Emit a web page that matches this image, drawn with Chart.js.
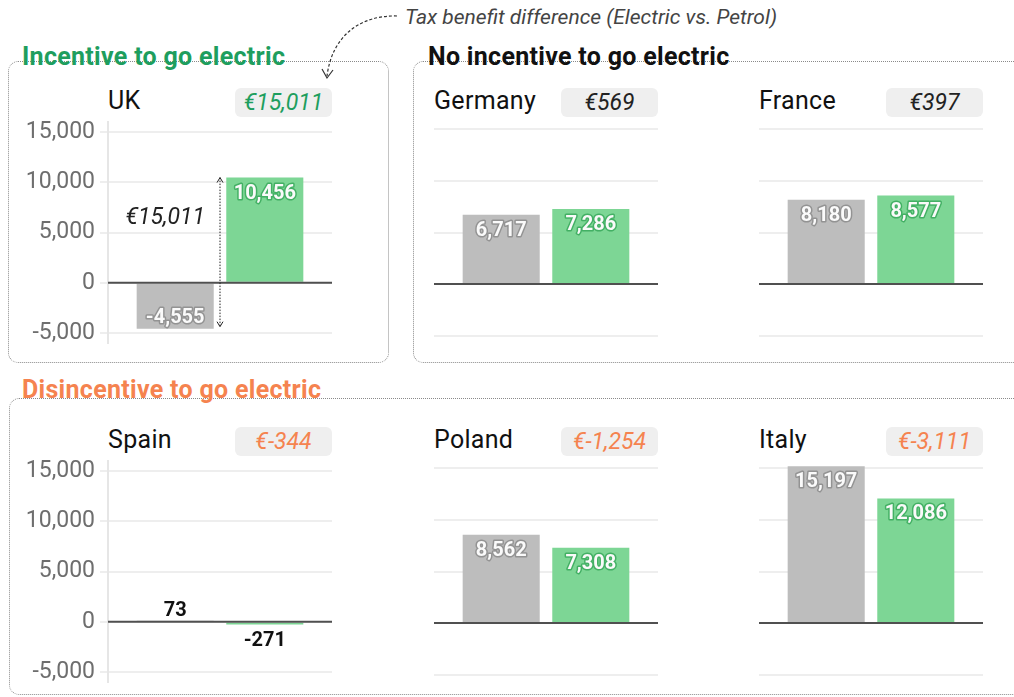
<!DOCTYPE html>
<html>
<head>
<meta charset="utf-8">
<script src="https://cdn.jsdelivr.net/npm/chart.js@4.4.0/dist/chart.umd.min.js"></script>
<style>
  html, body { margin: 0; padding: 0; background: #fff; }
  body { width: 1014px; height: 697px; position: relative; overflow: hidden; font-family: Roboto, "Noto Sans", sans-serif; }
  .box { position: absolute; border: 1px dotted #8a8a8a; border-radius: 10px; box-sizing: border-box; }
  .group-title { position: absolute; font-weight: 700; font-size: 25px; line-height: 30px; letter-spacing: 0.3px; white-space: nowrap; }
  .panel { position: absolute; }
  .country { position: absolute; font-size: 25px; line-height: 30px; letter-spacing: 0.3px; color: #111; }
  .badge { position: absolute; width: 97px; height: 29px; border-radius: 6px; background: #efefef; font-style: italic; font-size: 23px; line-height: 29px; text-align: center; }
  .note { position: absolute; font-style: italic; font-size: 21px; line-height: 24px; color: #444; white-space: nowrap; }
  svg { position: absolute; left: 0; top: 0; pointer-events: none; }
</style>
</head>
<body>
<div class="box" style="left:8px; top:61px; width:381px; height:302px;"></div>
<div class="box" style="left:413px; top:61px; width:640px; height:302px;"></div>
<div class="box" style="left:9px; top:398px; width:1040px; height:297px;"></div>
<div class="group-title" style="left:22px; top:42px; color:#1e9e5e;">Incentive to go electric</div>
<div class="group-title" style="left:428px; top:42px; color:#111;">No incentive to go electric</div>
<div class="group-title" style="left:22px; top:375px; color:#f5834f;">Disincentive to go electric</div>
<div class="note" style="left:405px; top:5px;">Tax benefit difference (Electric vs. Petrol)</div>
<svg width="1014" height="697">
  <path d="M 397 16 C 360 15, 332 36, 327 76" fill="none" stroke="#333" stroke-width="1.2" stroke-dasharray="3 2"/>
  <path d="M 322 69 L 327 78 L 333 70" fill="none" stroke="#333" stroke-width="1.2"/>
</svg>

<script>
// one small chart per country: petrol vs electric tax cost
const countries = ['UK', 'Germany', 'France', 'Spain', 'Poland', 'Italy'];
const petrolCost = [-4555, 6717, 8180, 73, 8562, 15197];
const electricCost = [10456, 7286, 8577, -271, 7308, 12086];
const countryGroup = [0, 1, 1, 2, 2, 2];
const yTicks = [-5000, 0, 5000, 10000, 15000];

// group colours: incentive, no incentive, disincentive
const groupColors = ['#1e9e5e', '#222', '#f5834f'];
const barColors = ['#bdbdbd', '#7dd695'];
const labelOutline = ['#939393', '#43b064'];

// plot area positions
const panelPos = [
    { left: 108, top: 119, axis: true },
    { left: 434, top: 119, axis: false },
    { left: 759, top: 119, axis: false },
    { left: 108, top: 458, axis: true },
    { left: 434, top: 458, axis: false },
    { left: 759, top: 458, axis: false }
];
const plotW = 224, plotH = 227;

const fmt = v => v.toLocaleString('en-US');

const zeroLine = {
    id: 'zeroLine',
    afterDatasetsDraw(chart) {
        const { ctx, chartArea, scales: { y } } = chart;
        const py = y.getPixelForValue(0);
        ctx.save();
        ctx.strokeStyle = '#505050';
        ctx.lineWidth = 2;
        ctx.beginPath();
        ctx.moveTo(chartArea.left, py);
        ctx.lineTo(chartArea.right, py);
        ctx.stroke();
        ctx.restore();
    }
};

const barLabels = {
    id: 'barLabels',
    afterDatasetsDraw(chart) {
        const ctx = chart.ctx;
        chart.data.datasets.forEach((ds, di) => {
            chart.getDatasetMeta(di).data.forEach((bar, j) => {
                const v = ds.data[j];
                const txt = fmt(v);
                const h = Math.abs(bar.base - bar.y);
                ctx.save();
                ctx.font = 'bold 20px Roboto';
                ctx.textAlign = 'center';
                ctx.textBaseline = 'middle';
                if (h > 30) {
                    const ty = v >= 0 ? bar.y + 16 : bar.y - 11;
                    ctx.lineJoin = 'round';
                    ctx.lineWidth = 3;
                    ctx.strokeStyle = labelOutline[di];
                    ctx.strokeText(txt, bar.x, ty);
                    ctx.fillStyle = '#fafafa';
                    ctx.fillText(txt, bar.x, ty);
                } else {
                    const ty = v >= 0 ? bar.y - 10 : bar.y + 16;
                    ctx.fillStyle = '#111';
                    ctx.fillText(txt, bar.x, ty);
                }
                ctx.restore();
            });
        });
    }
};

// dotted double arrow showing the gap between the two bars
const diffArrow = {
    id: 'diffArrow',
    afterDatasetsDraw(chart) {
        const ctx = chart.ctx, y = chart.scales.y;
        const i = chart.options.panelIndex;
        const p = chart.getDatasetMeta(0).data[0], e = chart.getDatasetMeta(1).data[0];
        const x = (p.x + p.width / 2 + e.x - e.width / 2) / 2;
        const y1 = y.getPixelForValue(electricCost[i]);
        const y2 = y.getPixelForValue(petrolCost[i]);
        ctx.save();
        ctx.strokeStyle = '#222';
        ctx.lineWidth = 1;
        ctx.setLineDash([1.5, 1.5]);
        ctx.beginPath();
        ctx.moveTo(x, y1);
        ctx.lineTo(x, y2 - 2);
        ctx.stroke();
        ctx.setLineDash([]);
        ctx.beginPath();
        ctx.moveTo(x - 3, y1 + 5); ctx.lineTo(x, y1); ctx.lineTo(x + 3, y1 + 5);
        ctx.moveTo(x - 3, y2 - 7); ctx.lineTo(x, y2 - 2); ctx.lineTo(x + 3, y2 - 7);
        ctx.stroke();
        ctx.font = 'italic 23px Roboto';
        ctx.fillStyle = '#222';
        ctx.textAlign = 'right';
        ctx.textBaseline = 'middle';
        ctx.fillText('€' + fmt(electricCost[i] - petrolCost[i]), x - 15, y1 + 0.27 * (y2 - y1));
        ctx.restore();
    }
};

function makePanel(i) {
    const pos = panelPos[i];
    const axisW = pos.axis ? 108 : 0;

    const title = document.createElement('div');
    title.className = 'country';
    title.textContent = countries[i];
    title.style.left = pos.left + 'px';
    title.style.top = (pos.top - 33) + 'px';
    document.body.appendChild(title);

    const badge = document.createElement('div');
    badge.className = 'badge';
    badge.textContent = '€' + fmt(electricCost[i] - petrolCost[i]);
    badge.style.left = (pos.left + plotW - 97) + 'px';
    badge.style.top = (pos.top - 31) + 'px';
    badge.style.color = groupColors[countryGroup[i]];
    document.body.appendChild(badge);

    const wrap = document.createElement('div');
    wrap.className = 'panel';
    wrap.style.left = (pos.left - axisW) + 'px';
    wrap.style.top = (pos.top - 16) + 'px';
    wrap.style.width = (axisW + plotW + 4) + 'px';
    wrap.style.height = (plotH + 32) + 'px';
    const canvas = document.createElement('canvas');
    wrap.appendChild(canvas);
    document.body.appendChild(wrap);

    const plugins = [zeroLine, barLabels];
    if (countryGroup[i] === 0) plugins.push(diffArrow);

    new Chart(canvas, {
        type: 'bar',
        data: {
            labels: [countries[i]],
            datasets: [
                { label: 'Petrol', data: [petrolCost[i]], backgroundColor: barColors[0], categoryPercentage: 0.8, barPercentage: 0.86 },
                { label: 'Electric', data: [electricCost[i]], backgroundColor: barColors[1], categoryPercentage: 0.8, barPercentage: 0.86 }
            ]
        },
        options: {
            panelIndex: i,
            responsive: true,
            maintainAspectRatio: false,
            animation: false,
            layout: { padding: { top: 16, bottom: 16, left: 0, right: 4 } },
            plugins: { legend: { display: false }, tooltip: { enabled: false } },
            scales: {
                x: { display: false },
                y: {
                    min: -6000,
                    max: 16000,
                    afterBuildTicks: ax => { ax.ticks = yTicks.map(v => ({ value: v })); },
                    afterFit: ax => { ax.width = axisW; },
                    border: { display: pos.axis, color: '#e6e6e6', width: 2 },
                    grid: { color: '#eeeeee', lineWidth: 2, drawTicks: pos.axis, tickLength: 8, tickColor: '#eeeeee' },
                    ticks: {
                        display: pos.axis,
                        color: '#6e6e6e',
                        padding: 5,
                        font: { family: 'Roboto', size: 23 },
                        callback: v => fmt(v)
                    }
                }
            }
        },
        plugins: plugins
    });
}

countries.forEach((c, i) => makePanel(i));
</script>
</body>
</html>
